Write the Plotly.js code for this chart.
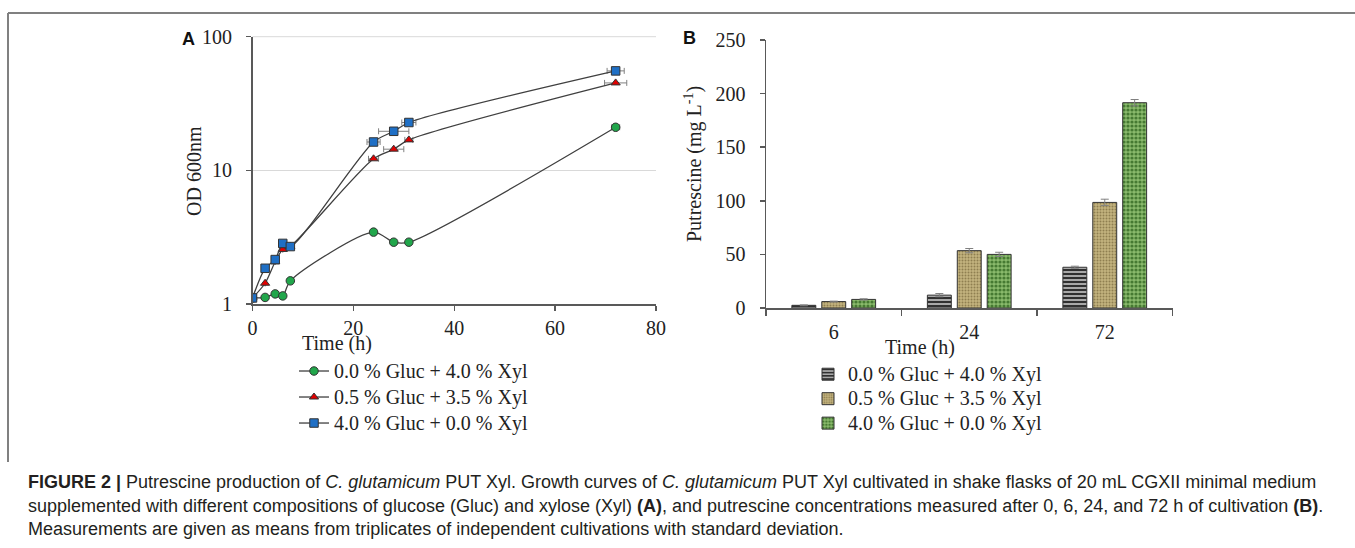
<!DOCTYPE html>
<html>
<head>
<meta charset="utf-8">
<script src="https://cdn.plot.ly/plotly-3.0.1.min.js"></script>
<style>html,body{margin:0;padding:0;background:#fff;}#chart{width:1355px;height:548px;}</style>
</head>
<body>
<div id="chart"></div>
<script>
// ---- Panel A data (growth curves) ----
const timeA = [0, 2.5, 4.5, 6, 7.5, 24, 28, 31, 72];
const odGreen = [1.11, 1.12, 1.19, 1.15, 1.49, 3.45, 2.9, 2.9, 21.0];
const odRed   = [1.11, 1.43, 2.07, 2.56, 2.7, 12.2, 14.4, 16.9, 45.1];
const odBlue  = [1.11, 1.85, 2.15, 2.84, 2.69, 16.3, 19.6, 22.8, 55.5];
const xErrGreen = [0, 0, 0, 0, 0, 0, 0, 0, 0.8];
const xErrRed   = [0, 0, 0, 0, 0, 1.0, 2.0, 0.8, 2.2];
const xErrBlue  = [0, 0, 0, 0, 0, 1.3, 3.0, 1.4, 1.7];
const seriesNames = ['0.0 % Gluc + 4.0 % Xyl', '0.5 % Gluc + 3.5 % Xyl', '4.0 % Gluc + 0.0 % Xyl'];

// ---- Panel B data (putrescine) ----
const timeB = ['6', '24', '72'];
const putS1 = [2.5, 12, 38];
const putS2 = [6, 53.5, 98.5];
const putS3 = [8, 50, 191.5];
const errS1 = [0.4, 1.5, 1.0];
const errS2 = [0.4, 2.0, 3.0];
const errS3 = [0.6, 2.0, 3.0];

const W = 1355, H = 548;
const px = x => x / W;
const py = y => 1 - y / H;
const serif = 'Liberation Serif, Times New Roman, serif';
const sans = 'Liberation Sans, Arial, sans-serif';
const axisCol = '#595959';
const big = s => '<span style="font-size:20px">' + s + '</span>';

function lineTrace(y, xe, name, sym, col) {
  return {
    x: timeA, y: y, name: big(name), type: 'scatter', mode: 'lines+markers',
    xaxis: 'x', yaxis: 'y', legend: 'legend',
    line: {color: '#404040', width: 1.3, shape: 'spline', smoothing: 0.8},
    marker: {symbol: sym, size: sym === 'triangle-up' ? 8 : 8.5, color: col, line: {color: '#333', width: 1}},
    error_x: {type: 'data', array: xe, visible: true, color: '#808080', thickness: 1, width: 3}
  };
}
function barTrace(y, e, name, pat) {
  return {
    x: timeB, y: y, name: big(name), type: 'bar', xaxis: 'x2', yaxis: 'y2', legend: 'legend2',
    marker: {color: pat.bg, line: {color: '#333', width: 1}, pattern: pat.p},
    error_y: {type: 'data', array: e, visible: true, color: '#808080', thickness: 1, width: 4}
  };
}

const data = [
  lineTrace(odGreen, xErrGreen, seriesNames[0], 'circle', '#21a64b'),
  lineTrace(odRed, xErrRed, seriesNames[1], 'triangle-up', '#e00000'),
  lineTrace(odBlue, xErrBlue, seriesNames[2], 'square', '#1f6fc5'),
  barTrace(putS1, errS1, seriesNames[0], {bg: '#9a9a9a', p: {shape: '-', fgcolor: '#222', bgcolor: '#a8a8a8', size: 4, solidity: 0.45}}),
  barTrace(putS2, errS2, seriesNames[1], {bg: '#bcab78', p: {shape: '.', fgcolor: '#8f7f50', bgcolor: '#c3b37f', size: 3, solidity: 0.35}}),
  barTrace(putS3, errS3, seriesNames[2], {bg: '#78a85a', p: {shape: '.', fgcolor: '#467a32', bgcolor: '#8aba6c', size: 4, solidity: 0.5}})
];

const tf = {family: serif, size: 20, color: '#222'};
const layout = {
  width: W, height: H,
  margin: {l: 0, r: 0, t: 0, b: 0},
  paper_bgcolor: '#fff', plot_bgcolor: 'rgba(0,0,0,0)',
  showlegend: true,
  barmode: 'group', bargap: 0.338, bargroupgap: 0.2,
  xaxis: {
    domain: [px(252.5), px(656)], range: [0, 80], tickvals: [0, 20, 40, 60, 80],
    showline: true, linecolor: axisCol, linewidth: 1.5, ticks: 'outside', ticklen: 5, tickcolor: axisCol, tickwidth: 1.5,
    showgrid: false, zeroline: false, tickfont: tf, anchor: 'y', ticklabelstandoff: 0
  },
  yaxis: {
    domain: [py(304), py(36.7)], type: 'log', range: [0, 2], tickvals: [1, 10, 100], ticktext: ['1', '10', '100'],
    showline: true, linecolor: axisCol, linewidth: 1.5, ticks: 'outside', ticklen: 5, tickcolor: axisCol, tickwidth: 1.5,
    showgrid: true, gridcolor: '#d9d9d9', gridwidth: 1, zeroline: false, tickfont: tf, anchor: 'x', ticklabelstandoff: 10
  },
  xaxis2: {
    domain: [px(766), px(1172.5)], type: 'category', categoryorder: 'array', categoryarray: timeB,
    showline: true, linecolor: axisCol, linewidth: 1.5, ticks: 'outside', ticklen: 6, tickcolor: axisCol, tickwidth: 1.5,
    tickson: 'boundaries', showgrid: false, zeroline: false, tickfont: tf, anchor: 'y2', ticklabelstandoff: 5
  },
  yaxis2: {
    domain: [py(308), py(40)], range: [0, 250], dtick: 50,
    showline: true, linecolor: axisCol, linewidth: 1.5, ticks: 'outside', ticklen: 5, tickcolor: axisCol, tickwidth: 1.5,
    showgrid: false, zeroline: false, tickfont: tf, anchor: 'x2', ticklabelstandoff: 10
  },
  legend: {
    x: px(294), y: py(353), xanchor: 'left', yanchor: 'top', bgcolor: 'rgba(0,0,0,0)',
    font: {family: serif, size: 17.7, color: '#222'}, itemwidth: 30, tracegroupgap: 0
  },
  legend2: {
    x: px(808), y: py(357), xanchor: 'left', yanchor: 'top', bgcolor: 'rgba(0,0,0,0)',
    font: {family: serif, size: 16.5, color: '#222'}, itemwidth: 30, tracegroupgap: 0
  },
  shapes: [
    {type: 'line', xref: 'x domain', yref: 'y domain', x0: 0, x1: 1, y0: 1, y1: 1, line: {color: '#d9d9d9', width: 1}, layer: 'below'},
    {type: 'line', xref: 'paper', yref: 'paper', x0: px(8), x1: px(1355), y0: py(13), y1: py(13), line: {color: '#808080', width: 2}},
    {type: 'line', xref: 'paper', yref: 'paper', x0: px(8), x1: px(8), y0: py(13), y1: py(462), line: {color: '#808080', width: 2}}
  ],
  annotations: [
    {text: '<b>A</b>', x: px(180), y: py(39), xanchor: 'left', yanchor: 'middle', xref: 'paper', yref: 'paper', showarrow: false, font: {family: sans, size: 18, color: '#111'}},
    {text: '<b>B</b>', x: px(681), y: py(38), xanchor: 'left', yanchor: 'middle', xref: 'paper', yref: 'paper', showarrow: false, font: {family: sans, size: 18, color: '#111'}},
    {text: 'OD 600nm', x: px(194), y: py(171), textangle: -90, xanchor: 'center', yanchor: 'middle', xref: 'paper', yref: 'paper', showarrow: false, font: tf},
    {text: 'Time (h)', x: px(337), y: py(343), xanchor: 'center', yanchor: 'middle', xref: 'paper', yref: 'paper', showarrow: false, font: tf},
    {text: 'Putrescine (mg L<sup>-1</sup>)', x: px(694), y: py(164), textangle: -90, xanchor: 'center', yanchor: 'middle', xref: 'paper', yref: 'paper', showarrow: false, font: tf},
    {text: 'Time (h)', x: px(920), y: py(347), xanchor: 'center', yanchor: 'middle', xref: 'paper', yref: 'paper', showarrow: false, font: tf},
    {text: '<b>FIGURE 2 |</b> Putrescine production of <i>C. glutamicum</i> PUT Xyl. Growth curves of <i>C. glutamicum</i> PUT Xyl cultivated in shake flasks of 20 mL CGXII minimal medium',
     x: px(26), y: py(482), xanchor: 'left', yanchor: 'middle', xref: 'paper', yref: 'paper', showarrow: false, font: {family: sans, size: 18, color: '#231f20'}},
    {text: 'supplemented with different compositions of glucose (Gluc) and xylose (Xyl) <b>(A)</b>, and putrescine concentrations measured after 0, 6, 24, and 72 h of cultivation <b>(B)</b>.',
     x: px(26), y: py(505.5), xanchor: 'left', yanchor: 'middle', xref: 'paper', yref: 'paper', showarrow: false, font: {family: sans, size: 18, color: '#231f20'}},
    {text: 'Measurements are given as means from triplicates of independent cultivations with standard deviation.',
     x: px(26), y: py(529), xanchor: 'left', yanchor: 'middle', xref: 'paper', yref: 'paper', showarrow: false, font: {family: sans, size: 18, color: '#231f20'}}
  ]
};

Plotly.newPlot('chart', data, layout, {displayModeBar: false, staticPlot: true});
</script>
</body>
</html>
